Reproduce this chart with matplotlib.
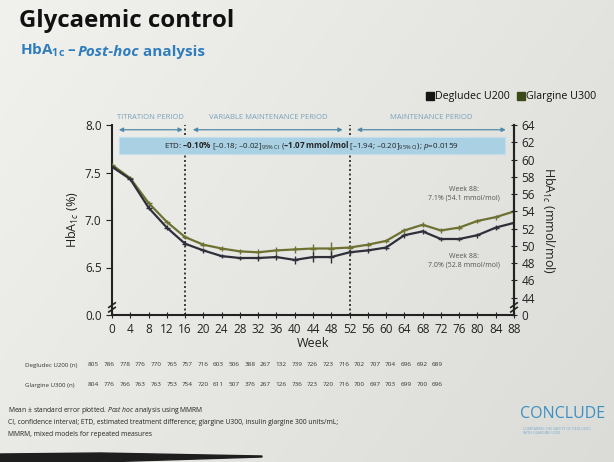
import matplotlib
matplotlib.use('Agg')
import matplotlib.pyplot as plt
import numpy as np
from matplotlib.patches import Rectangle, Polygon
from matplotlib.lines import Line2D

plt.rcParams['font.family'] = ['Open Sans', 'DejaVu Sans']
plt.rcParams['mathtext.fontset'] = 'custom'
plt.rcParams['mathtext.rm'] = 'Open Sans'
plt.rcParams['mathtext.it'] = 'Open Sans:italic'
plt.rcParams['mathtext.bf'] = 'Open Sans:bold'

# data
weeks = list(range(0, 89, 4))
degludec = [7.56, 7.43, 7.13, 6.92, 6.75, 6.68, 6.62, 6.60, 6.60, 6.61, 6.58, 6.61,
            6.61, 6.66, 6.68, 6.71, 6.84, 6.88, 6.80, 6.80, 6.84, 6.92, 6.97]
glargine = [7.58, 7.44, 7.18, 6.98, 6.82, 6.74, 6.70, 6.67, 6.66, 6.68, 6.69, 6.70,
            6.70, 6.71, 6.74, 6.78, 6.89, 6.95, 6.89, 6.92, 6.99, 7.03, 7.09]
deg_se = [0.02, 0.02, 0.025, 0.025, 0.025, 0.025, 0.025, 0.025, 0.03, 0.035, 0.04, 0.05,
          0.065, 0.025, 0.025, 0.025, 0.025, 0.025, 0.025, 0.025, 0.025, 0.025, 0.025]
gla_se = [0.02, 0.02, 0.025, 0.025, 0.025, 0.025, 0.025, 0.025, 0.03, 0.035, 0.04, 0.05,
          0.065, 0.025, 0.025, 0.025, 0.025, 0.025, 0.025, 0.025, 0.025, 0.025, 0.025]
deg_n = [805, 786, 778, 776, 770, 765, 757, 716, 603, 506, 388, 267, 132,
         739, 726, 723, 716, 702, 707, 704, 696, 692, 689]
gla_n = [804, 776, 766, 763, 763, 753, 754, 720, 611, 507, 376, 267, 126,
         736, 723, 720, 716, 700, 697, 703, 699, 700, 696]
left_ticks = [6.0, 6.5, 7.0, 7.5, 8.0]
left_labels = ['0.0', '6.5', '7.0', '7.5', '8.0']
right_ticks = list(range(42, 65, 2))
right_labels = ['0'] + [str(v) for v in range(44, 65, 2)]
periods = [('TITRATION PERIOD', 1.5, 15.5), ('VARIABLE MAINTENANCE PERIOD', 17.7, 50.5),
           ('MAINTENANCE PERIOD', 53.6, 86.2)]

W, H = 614, 462
fig = plt.figure(figsize=(W / 100, H / 100), dpi=100)

# photo-like slide background
bg = fig.add_axes([0, 0, 1, 1])
gx, gy = np.meshgrid(np.linspace(0, 1, 200), np.linspace(0, 1, 150))
shade = 0.945 - 0.055 * gx - 0.03 * gy
rgb = np.dstack([shade, shade, shade * 0.985])
bg.imshow(rgb, extent=[0, W, H, 0], aspect='auto')
bg.add_patch(Polygon([(0, 462), (0, 454), (100, 453), (262, 456), (262, 457), (100, 462)],
                     closed=True, color='#1e1e1e'))
bg.set_xlim(0, W)
bg.set_ylim(H, 0)
bg.axis('off')

deg_col = '#2f2f3a'
gla_col = '#6e7132'

ax = fig.add_axes([112 / W, 1 - 315 / H, (514 - 112) / W, 190 / H])
ax.patch.set_alpha(0)
ax.errorbar(weeks, glargine, yerr=gla_se, color=gla_col, lw=1.6, elinewidth=1.0,
            marker='_', ms=4, zorder=4)
ax.errorbar(weeks, degludec, yerr=deg_se, color=deg_col, lw=1.6, elinewidth=1.0,
            marker='_', ms=4, zorder=5)
ax.set_xlim(0, 88)
ax.set_ylim(6.0, 8.0)
ax.set_xticks(weeks)
ax.set_yticks(left_ticks)
ax.set_yticklabels(left_labels)
ax.tick_params(axis='x', direction='inout', length=5, labelsize=8.5, color='#222',
               labelcolor='#222', pad=3)
ax.tick_params(axis='y', direction='out', length=4, labelsize=8.5, color='#222',
               labelcolor='#222')
ax.spines['top'].set_visible(False)
for s in ['left', 'bottom', 'right']:
    ax.spines[s].set_linewidth(1.5)
    ax.spines[s].set_color('#222')
ax.set_xlabel('Week', fontsize=9, color='#222', labelpad=1)

for wk in (16, 52):
    ax.axvline(wk, color='#222', ls=(0, (1.2, 1.5)), lw=1.2, zorder=1)

ax.add_patch(Rectangle((1.5, 7.69), 84.5, 0.18, facecolor='#a9d1e3', edgecolor='#c2dfeb',
                       lw=0.8, zorder=3))
ax.text(43.7, 7.78,
        'ETD: $\\mathbf{\u20130.10\\%}$ [\u20130.18; \u20130.02]$_{\\mathrm{95\\%\\ CI}}$ '
        '($\\mathbf{\u20131.07\\ mmol/mol}$ [\u20131.94; \u20130.20]$_{\\mathrm{95\\%\\ CI}}$); '
        '$\\mathit{p}$=0.0159',
        ha='center', va='center', fontsize=5.8, color='#222', zorder=6)

for name, a, b in periods:
    ax.annotate('', xy=(b, 7.95), xytext=(a, 7.95), annotation_clip=False,
                arrowprops=dict(arrowstyle='<|-|>', color='#4f8aa8', lw=0.9,
                                mutation_scale=6, shrinkA=0, shrinkB=0))
    ax.text((a + b) / 2, 8.08, name, ha='center', va='center', fontsize=5.5,
            color='#7aa3b8', clip_on=False)

ax.text(77, 7.28, 'Week 88:\n7.1% (54.1 mmol/mol)', ha='center', va='center',
        fontsize=5, color='#555', linespacing=1.3)
ax.text(77, 6.57, 'Week 88:\n7.0% (52.8 mmol/mol)', ha='center', va='center',
        fontsize=5, color='#555', linespacing=1.3)

ax2 = ax.twinx()
ax2.set_ylim(42, 64)
ax2.set_yticks(right_ticks)
ax2.set_yticklabels(right_labels)
ax2.tick_params(axis='y', direction='inout', length=5, labelsize=8.5, color='#222',
                labelcolor='#222', pad=3)
for s in ['top', 'left', 'bottom']:
    ax2.spines[s].set_visible(False)
ax2.spines['right'].set_linewidth(1.5)
ax2.spines['right'].set_color('#222')

# axis break marks
for xa in (0, 1):
    for dy in (-0.012, 0.012):
        ax.plot([xa - 0.008, xa + 0.008], [0.04 + dy - 0.012, 0.04 + dy + 0.012],
                transform=ax.transAxes, color='#222', lw=1.2, clip_on=False, zorder=7)

fig.text(73 / W, 1 - 220 / H, 'HbA$_{1c}$ (%)', rotation=90, ha='center', va='center',
         fontsize=9, color='#222')
fig.text(548 / W, 1 - 220 / H, 'HbA$_{1c}$ (mmol/mol)', rotation=270, ha='center',
         va='center', fontsize=9, color='#222')

# titles
fig.text(19 / W, 1 - 21 / H, 'Glycaemic control', fontsize=17.3, weight='bold',
         color='#111', va='center')
t1 = bg.text(20, 55, 'HbA$_{\\mathbf{1c}}$ \u2013 ', fontsize=11, weight='bold',
             color='#2f7dbd', va='baseline')
t2 = bg.annotate('Post-hoc', xy=(1, 0), xycoords=t1, fontsize=11, weight='bold',
                 style='italic', color='#2f7dbd', va='bottom')
bg.annotate(' analysis', xy=(1, 0), xycoords=t2, fontsize=11, weight='bold',
            color='#2f7dbd', va='bottom')

# legend
handles = [Line2D([], [], ls='', marker='s', ms=6, color='#151515'),
           Line2D([], [], ls='', marker='s', ms=6, color='#3c4a1a')]
fig.legend(handles, ['Degludec U200', 'Glargine U300'], loc='center right',
           bbox_to_anchor=(606 / W, 1 - 97 / H), ncol=2, frameon=False, fontsize=7.7,
           handlelength=0.6, handletextpad=0.15, columnspacing=0.8,
           labelcolor='#111')

# number at risk table
cols = np.linspace(93.5, 437.5, len(weeks))
for ypix, label, vals in [(365, 'Degludec U200 (n)', deg_n), (385, 'Glargine U300 (n)', gla_n)]:
    fig.text(25 / W, 1 - ypix / H, label, fontsize=4.4, color='#333', va='center')
    for xp, v in zip(cols, vals):
        fig.text(xp / W, 1 - ypix / H, str(v), fontsize=4.6, color='#333',
                 ha='center', va='center')

# footnotes
foot = ['Mean \u00b1 standard error plotted. $\\mathit{Post\\ hoc}$ analysis using MMRM',
        'CI, confidence interval; ETD, estimated treatment difference; glargine U300, '
        'insulin glargine 300 units/mL;',
        'MMRM, mixed models for repeated measures']
for i, line in enumerate(foot):
    fig.text(8 / W, 1 - (410 + 12 * i) / H, line, fontsize=4.9, color='#222', va='center')

fig.text(563 / W, 1 - 414 / H, 'CONCLUDE', fontsize=11.5, color='#3d8fc4', ha='center',
         va='center')
fig.text(523 / W, 1 - 431 / H, 'COMPARING THE SAFETY OF DEGLUDEC\nWITH GLARGINE U300',
         fontsize=2.6, color='#78acd0', ha='left', va='center')

fig.savefig('out.png', dpi=100)
